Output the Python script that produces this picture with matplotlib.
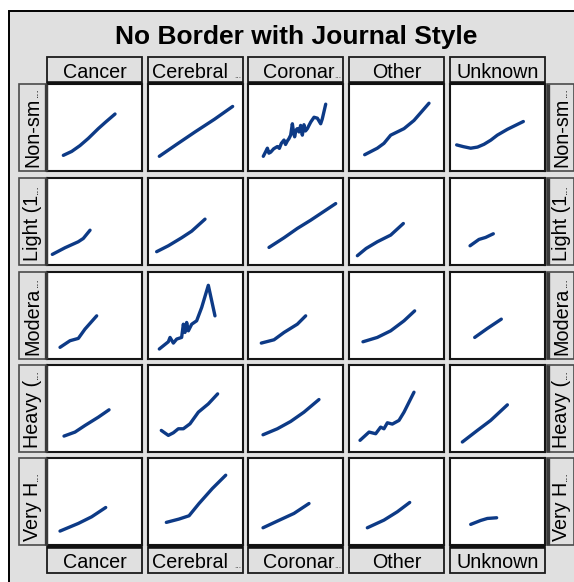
import matplotlib
matplotlib.use("Agg")
import matplotlib.pyplot as plt
from matplotlib.patches import Rectangle
from matplotlib.lines import Line2D

plt.rcParams["font.family"] = ["Liberation Sans", "DejaVu Sans"]

W, H = 574, 582

# panel labels (already truncated to fit their boxes)
causes = ["Cancer", "Cerebral", "Coronar", "Other", "Unknown"]
cause_cut = [False, True, True, False, False]
smoking = ["Non-sm", "Light (1", "Modera", "Heavy (", "Very H"]

# one series per cause and smoking group, x and y on a shared 0-100 scale
non_smoker = {
    "Cancer": ([17.2, 26.0, 34.7, 43.5, 54.0, 62.0, 71.6],
               [18.0, 22.5, 29.2, 37.5, 48.7, 56.5, 65.5]),
    "Cerebral": ([11.9, 30.0, 49.5, 70.0, 89.1],
                 [16.9, 30.5, 44.9, 59.5, 74.2]),
    "Coronar": ([16.1, 18.5, 20.4, 22.0, 23.9, 27.0, 30.9, 33.0, 35.1, 37.9, 39.5,
                 41.4, 43.0, 44.9, 46.7, 48.0, 49.1, 50.5, 51.9, 53.7, 55.4, 57.2,
                 58.9, 60.5, 62.5, 64.0, 66.0, 69.5, 73.0, 76.5, 78.2, 81.8],
                [16.9, 22.0, 26.2, 20.5, 21.7, 25.5, 28.1, 26.0, 31.8, 35.6, 30.5,
                 34.5, 37.0, 41.2, 54.3, 44.0, 39.3, 47.0, 48.7, 44.9, 52.4, 41.2,
                 53.2, 46.0, 48.7, 52.0, 56.2, 61.8, 60.7, 54.3, 59.9, 76.8]),
    "Other": ([16.5, 29.8, 36.8, 43.9, 57.9, 68.4, 84.2],
              [18.7, 26.2, 31.8, 41.2, 48.7, 58.1, 77.9]),
    "Unknown": ([7.0, 14.0, 21.8, 29.0, 35.8, 43.0, 49.8, 60.4, 77.2],
                [30.0, 28.0, 26.2, 27.5, 30.7, 35.5, 41.2, 47.9, 56.9]),
}
light = {
    "Cancer": ([5.6, 18.9, 32.9, 38.2, 45.3], [12.2, 19.8, 26.7, 30.5, 40.0]),
    "Cerebral": ([9.1, 21.4, 35.4, 46.0, 60.0], [15.3, 22.1, 31.3, 38.9, 52.7]),
    "Coronar": ([22.1, 37.9, 51.9, 66.0, 92.3], [20.2, 31.3, 42.0, 51.5, 70.6]),
    "Other": ([8.8, 18.0, 29.8, 43.9, 57.2], [10.7, 19.0, 26.7, 34.4, 47.7]),
    "Unknown": ([21.1, 30.5, 37.5, 45.6], [22.1, 29.4, 31.7, 35.9]),
}
moderate = {
    "Cancer": ([13.7, 24.2, 33.0, 40.0, 52.3], [13.4, 21.0, 23.7, 34.4, 49.6]),
    "Cerebral": ([11.9, 21.4, 23.2, 26.7, 30.2, 35.4, 37.2, 38.9, 40.7, 42.5, 46.0,
                  51.2, 56.5, 63.5, 70.5],
                 [11.5, 19.8, 24.8, 18.3, 22.9, 24.8, 40.0, 30.5, 42.0, 32.4, 40.0,
                  43.9, 59.2, 84.7, 49.6]),
    "Coronar": ([14.0, 27.4, 37.9, 51.9, 60.7], [18.3, 22.1, 30.5, 40.0, 49.6]),
    "Other": ([14.7, 29.8, 43.9, 57.9, 69.1], [19.8, 24.8, 32.4, 43.9, 55.3]),
    "Unknown": ([26.0, 39.3, 54.0], [24.8, 35.1, 45.8]),
}
heavy = {
    "Cancer": ([17.9, 29.5, 40.0, 54.0, 65.3], [18.3, 22.9, 30.5, 40.0, 48.5]),
    "Cerebral": ([14.0, 21.4, 26.7, 31.9, 37.2, 44.2, 53.0, 63.5, 73.3],
                 [24.8, 19.1, 22.1, 26.7, 26.7, 32.4, 45.8, 55.3, 66.8]),
    "Coronar": ([15.8, 30.9, 44.9, 58.9, 74.7], [19.8, 26.7, 35.1, 45.8, 60.3]),
    "Other": ([11.6, 21.1, 28.1, 33.3, 36.8, 40.4, 45.6, 52.6, 57.9, 68.4],
              [13.4, 22.9, 21.0, 28.6, 26.7, 33.6, 32.1, 36.3, 45.8, 68.7]),
    "Unknown": ([13.0, 28.8, 42.8, 60.4], [11.5, 24.8, 36.3, 54.2]),
}
very_heavy = {
    "Cancer": ([13.7, 33.0, 47.0, 61.8], [16.0, 24.8, 32.4, 43.1]),
    "Cerebral": ([19.3, 32.6, 43.2, 53.7, 67.7, 81.8], [26.0, 29.8, 33.6, 47.7, 64.9, 80.2]),
    "Coronar": ([15.8, 30.9, 48.4, 64.2], [19.8, 27.5, 36.3, 47.7]),
    "Other": ([19.3, 36.8, 50.9, 63.9], [19.8, 28.6, 38.2, 48.9]),
    "Unknown": ([21.8, 32.3, 39.3, 49.1], [23.7, 28.2, 30.5, 31.3]),
}
groups = [non_smoker, light, moderate, heavy, very_heavy]

line_color = "#0d3a86"
bg = "#e0e0e0"

col_left = [47, 148, 248, 349, 450]
row_top = [84, 178, 272, 365, 458]
pw, ph = 95, 87

fig = plt.figure(figsize=(W / 100, H / 100), dpi=100)
fig.patch.set_facecolor("white")


def fx(x):
    return x / W


def fy(y):
    return 1 - y / H


def box(x0, y0, w, h, fc="none", ec="#1a1a1a", lw=1.0, z=1):
    fig.add_artist(Rectangle((fx(x0), fy(y0 + h)), w / W, h / H, facecolor=fc,
                             edgecolor=ec, linewidth=lw, transform=fig.transFigure,
                             zorder=z))


def seg(x0, y0, x1, y1, color="#111111", lw=2.5, z=3):
    fig.add_artist(Line2D([fx(x0), fx(x1)], [fy(y0), fy(y1)], color=color, lw=lw,
                          transform=fig.transFigure, zorder=z, solid_capstyle="butt"))


# outer frame
box(9, 11, W + 20, H + 20, fc=bg, ec="black", lw=1.4, z=0)

fig.text(fx(296), fy(44), "No Border with Journal Style", fontsize=19,
         fontweight="bold", ha="center", va="baseline")

# panels
for r, grp in enumerate(groups):
    for c, cause in enumerate(causes):
        ax = fig.add_axes([fx(col_left[c]), fy(row_top[r] + ph), pw / W, ph / H])
        ax.set_xlim(0, 100)
        ax.set_ylim(0, 100)
        ax.set_xticks([])
        ax.set_yticks([])
        for s in ax.spines.values():
            s.set_linewidth(1.5)
            s.set_color("#151515")
        xs, ys = grp[cause]
        ax.plot(xs, ys, color=line_color, lw=2.4, solid_capstyle="round",
                solid_joinstyle="round")

# column headers, top and bottom
for c, lab in enumerate(causes):
    x0 = col_left[c]
    for y0, edge_y, base in [(57, 83, 77.5), (547, 547, 567.5)]:
        box(x0, y0, pw, 26, fc=bg, ec="#1a1a1a", lw=1.3)
        seg(x0, edge_y, x0 + pw, edge_y, lw=2.6)
        if cause_cut[c]:
            right = x0 + pw - (15 if lab == "Cerebral" else 9)
            fig.text(fx(right), fy(base), lab, fontsize=14.2, ha="right", va="baseline")
            fig.text(fx(x0 + pw - 1.5), fy(base), "...", fontsize=6, ha="right",
                     va="baseline", color="#333333")
        else:
            fig.text(fx(x0 + pw / 2), fy(base), lab, fontsize=14.2, ha="center",
                     va="baseline")

# row headers, left and right
renderer = fig.canvas.get_renderer()
for r, lab in enumerate(smoking):
    y0 = row_top[r]
    for x0, edge_x, base in [(19, 46, 38), (547, 547.5, 567)]:
        box(x0, y0, 27, ph, fc=bg, ec="#4a4a4a", lw=1.2)
        seg(edge_x, y0, edge_x, y0 + ph, color="#3a3a3a", lw=2.4)
        t = fig.text(fx(base), fy(y0 + ph - 4), lab, fontsize=14.2, rotation=90,
                     rotation_mode="anchor", ha="left", va="baseline")
        ext = t.get_window_extent(renderer)
        fig.text(fx(base), ext.y1 / fig.dpi / (H / 100) + 1 / H, "...", fontsize=8.5,
                 rotation=90, rotation_mode="anchor", ha="left", va="baseline")

fig.savefig("out.png", dpi=100)
